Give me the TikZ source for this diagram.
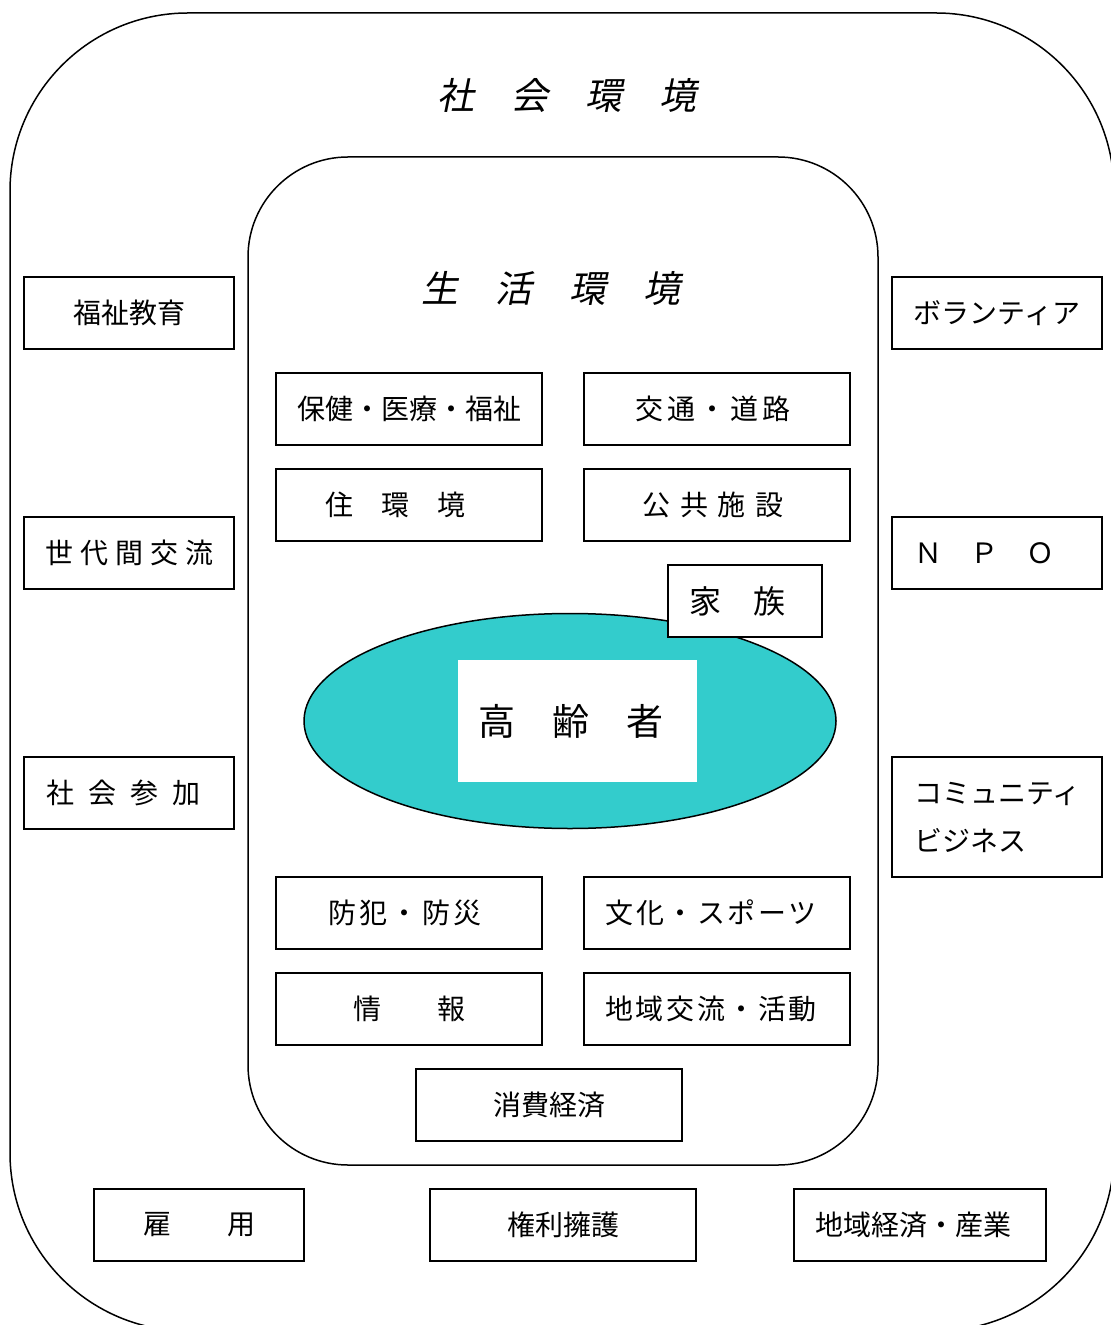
\documentclass[tikz,border=0pt]{standalone}
\usepackage{fontspec}
\setmainfont{Noto Sans CJK JP}
\newfontfamily\jpslant[FakeSlant=0.2]{Noto Sans CJK JP}
\usetikzlibrary{shapes.geometric}
\definecolor{eldercol}{HTML}{33CCCC}

\begin{document}
\begin{tikzpicture}[x=0.5pt, y=-0.5pt,
  box/.style={draw, line width=1pt, minimum width=105pt, minimum height=36pt,
              inner sep=0pt, font=\fontsize{14pt}{24pt}\selectfont},
  wbox/.style={box, minimum width=133pt},
  lbox/.style={box, align=left, text width=83pt},
  spaced/.style={font=\fontsize{14pt}{24pt}\selectfont\addfontfeature{LetterSpace=#1}},
  nudge/.style={execute at begin node={\kern-#1}},
  title/.style={font=\jpslant\fontsize{18.5pt}{22pt}\selectfont}]
  \useasboundingbox (0,0) rectangle (1111,1325);

  % Frames
  \draw[line width=0.75pt, rounded corners=89pt] (10,13) rectangle (1114,1331);
  \draw[line width=0.75pt, rounded corners=50pt] (248,157) rectangle (878,1165);

  % Titles
  \node[title] (social) at (567,96) {社　会　環　境};
  \node[title] (living) at (551,288) {生　活　環　境};

  % Elderly
  \node[ellipse, draw, line width=0.75pt, fill=eldercol,
        minimum width=266pt, minimum height=107.5pt] (circle) at (570,721) {};
  \node[fill=white, minimum width=119.5pt, minimum height=61pt, nudge=6pt,
        font=\fontsize{18.5pt}{22pt}\selectfont] (elder) at (577,721) {高　齢　者};
  \node[box, fill=white, minimum width=77pt, nudge=8pt,
        font=\fontsize{16pt}{20pt}\selectfont] (family) at (745,601) {家　族};

  % Left column
  \node[box] (edu) at (129,313) {福祉教育};
  \node[box, spaced=25] (gen) at (129,553) {世代間交流};
  \node[lbox, spaced=50] (part) at (129,793) {社会参加};

  % Right column
  \node[box] (vol) at (997,313) {ボランティア};
  \node[lbox] (npo) at (997,553) {Ｎ　Ｐ　Ｏ};
  \node[lbox, minimum height=60pt] (cb) at (997,817) {コミュニティ\\ビジネス};

  % Living environment
  \node[wbox] (health) at (409,409) {保健・医療・福祉};
  \node[wbox, spaced=14, nudge=4pt] (traffic) at (717,409) {交通・道路};
  \node[wbox, nudge=14pt] (house) at (409,505) {住　環　境};
  \node[wbox, spaced=35, nudge=4pt] (public) at (717,505) {公共施設};
  \node[wbox, spaced=12, nudge=4pt] (safety) at (409,913) {防犯・防災};
  \node[wbox, spaced=9, nudge=6pt] (culture) at (717,913) {文化・スポーツ};
  \node[wbox] (info) at (409,1009) {情　　報};
  \node[wbox, spaced=9, nudge=6pt] (local) at (717,1009) {地域交流・活動};
  \node[wbox] (consume) at (549,1105) {消費経済};

  % Bottom row
  \node[box] (job) at (199,1225) {雇　　用};
  \node[wbox] (rights) at (563,1225) {権利擁護};
  \node[box, minimum width=126pt, nudge=7pt] (economy) at (920,1225) {地域経済・産業};
\end{tikzpicture}
\end{document}
